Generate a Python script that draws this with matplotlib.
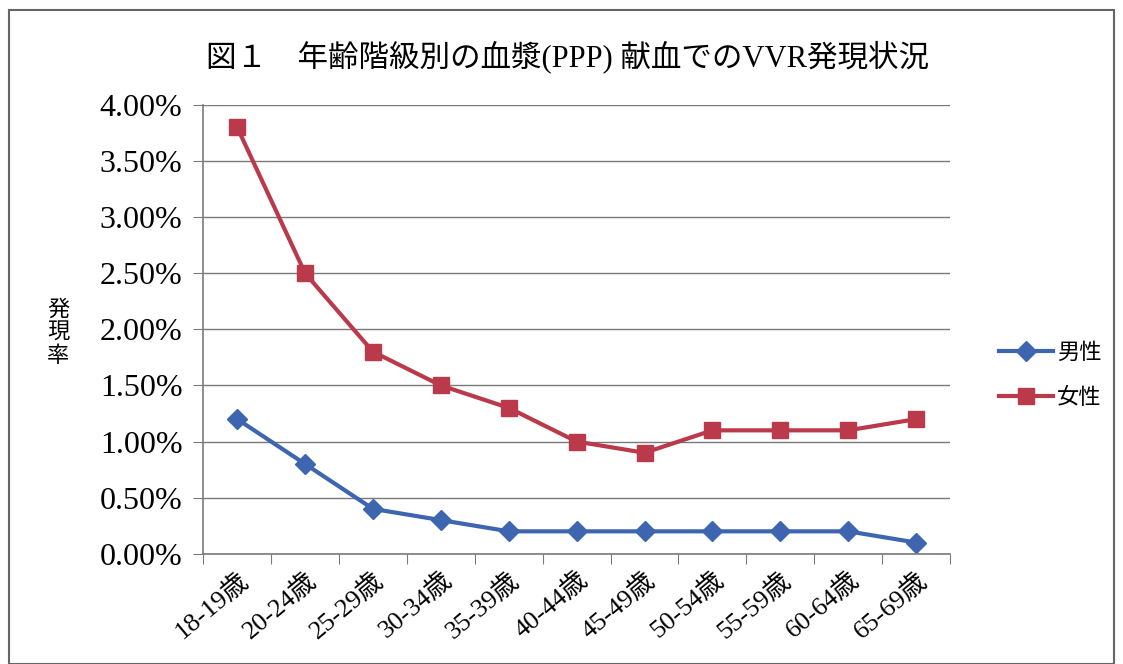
import matplotlib
matplotlib.use("Agg")
import matplotlib.pyplot as plt
from matplotlib.ticker import FuncFormatter
from matplotlib.patches import Rectangle

plt.rcParams['font.family'] = ['Liberation Serif', 'Noto Sans CJK JP']

ages = ["18-19歳", "20-24歳", "25-29歳", "30-34歳", "35-39歳", "40-44歳",
        "45-49歳", "50-54歳", "55-59歳", "60-64歳", "65-69歳"]
male = [1.2, 0.8, 0.4, 0.3, 0.2, 0.2, 0.2, 0.2, 0.2, 0.2, 0.1]
female = [3.8, 2.5, 1.8, 1.5, 1.3, 1.0, 0.9, 1.1, 1.1, 1.1, 1.2]

blue = "#3E66B0"
red = "#BA3A4B"

fig = plt.figure(figsize=(11.23, 6.64), dpi=100)
ax = fig.add_axes([0.181, 0.166, 0.665, 0.676])

x = range(len(ages))
ax.plot(x, male, color=blue, lw=3, marker="D", ms=10, label="男性")
ax.plot(x, female, color=red, lw=3, marker="s", ms=12, label="女性")

ax.set_xlim(-0.5, len(ages) - 0.5)
ax.set_ylim(0, 4.0)
ax.set_yticks([i * 0.5 for i in range(9)])
ax.yaxis.set_major_formatter(FuncFormatter(lambda v, p: "%.2f%%" % v))
ax.grid(axis="y", color="#7a7a7a", lw=1)
ax.set_axisbelow(True)

ax.set_xticks([i - 0.5 for i in range(len(ages) + 1)], minor=False)
ax.set_xticklabels([""] * (len(ages) + 1))
ax.set_xticks(list(x), minor=True)
ax.set_xticklabels(ages, minor=True, rotation=40, ha="right",
                   rotation_mode="anchor", fontsize=19)
ax.tick_params(axis="x", which="minor", length=0, pad=10)
ax.tick_params(axis="x", which="major", length=7, color="#7a7a7a")
ax.tick_params(axis="y", length=7, color="#7a7a7a", labelsize=23, pad=8)

for s in ["top", "right"]:
    ax.spines[s].set_visible(False)
ax.spines["left"].set_color("#7a7a7a")
ax.spines["bottom"].set_color("#7a7a7a")
ax.spines["left"].set_linewidth(1.2)
ax.spines["bottom"].set_linewidth(1.2)

fig.text(0.505, 0.915, "図１　年齢階級別の血漿(PPP) 献血でのVVR発現状況",
         ha="center", va="center", fontsize=22)
fig.text(0.052, 0.50, "発\n現\n率", ha="center", va="center", fontsize=16,
         linespacing=1.0, family="Noto Sans CJK JP")

leg = fig.legend(loc="center left", bbox_to_anchor=(0.872, 0.435), frameon=False,
                 handlelength=2.4, handletextpad=0.2, labelspacing=1.0,
                 prop={"family": "Noto Sans CJK JP", "size": 16})

fig.patches.append(Rectangle((0.008, 0.0), 0.984, 0.985, transform=fig.transFigure,
                             fill=False, edgecolor="#666666", lw=1.5))

fig.savefig("out.png", dpi=100)
